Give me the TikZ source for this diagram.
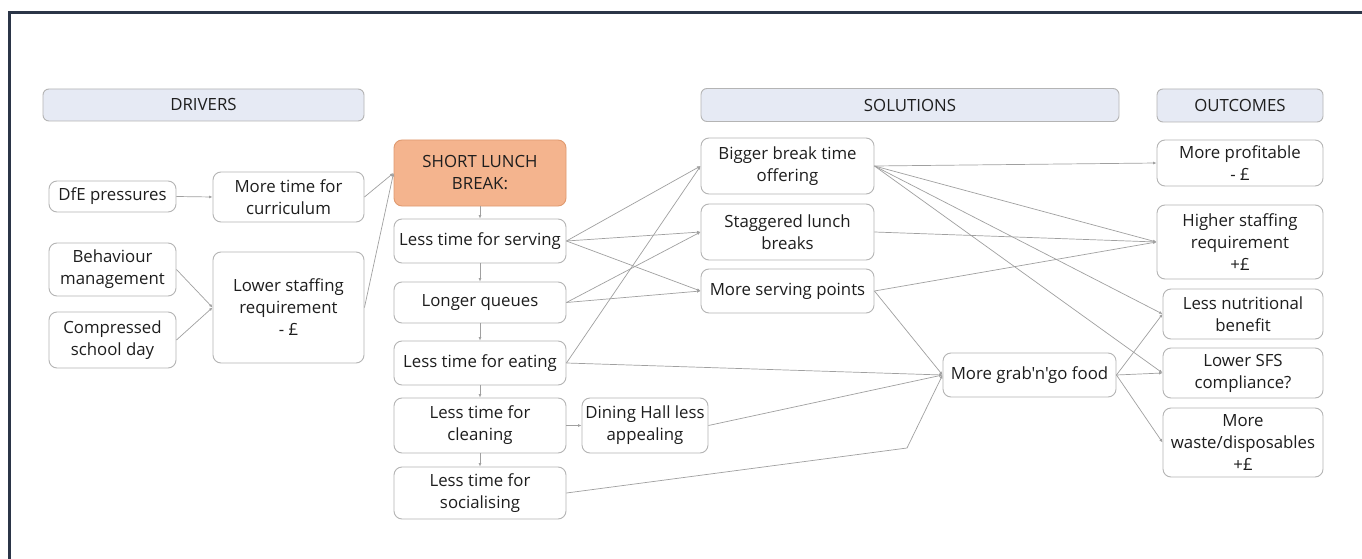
\documentclass[tikz,border=0pt]{standalone}
\usepackage{fontspec}
\setmainfont{Open Sans}[Ligatures=TeXOff]
\usetikzlibrary{arrows.meta}
\definecolor{framec}{HTML}{2B3547}
\definecolor{boxline}{HTML}{B4B4B4}
\definecolor{hdrfill}{HTML}{E6EAF4}
\definecolor{shortfill}{HTML}{F4B48E}
\definecolor{shortline}{HTML}{E09A70}
\definecolor{edgec}{HTML}{A0A0A0}
\definecolor{txt}{HTML}{1E1E1E}
\tikzset{
  box/.style={draw=boxline, line width=0.9pt, rounded corners=8pt, fill=white,
    inner sep=0pt, align=center, text=txt, font=\fontsize{16.8}{22}\selectfont},
  hdr/.style={box, fill=hdrfill, rounded corners=6pt},
  shortbox/.style={box, fill=shortfill, draw=shortline},
  link/.style={draw=edgec, line width=0.7pt, -{Latex[length=3.5pt,width=3pt]}},
}
\newcommand{\bx}[6]{\node[#1, minimum width=#4pt, minimum height=#5pt] (#2) at (#3) {#6};}
\begin{document}
\begin{tikzpicture}[x=1pt,y=-1pt]
\useasboundingbox (0,0) rectangle (1362,559);
\clip (0,0) rectangle (1362,559);
\fill[white] (0,0) rectangle (1362,559);
\draw[framec, line width=3pt] (9.5,12.5) rectangle (1390,590);
% headers
\bx{hdr}{hd}{203.5,105}{321}{32}{DRIVERS}
\bx{hdr}{hs}{910,105}{418}{33}{SOLUTIONS}
\bx{hdr}{ho}{1240,105.5}{166}{33}{OUTCOMES}
% drivers
\bx{box}{dfe}{112.5,196.5}{127}{31}{DfE pressures}
\bx{box}{curr}{288.5,197}{151}{50}{More time for\\curriculum}
\bx{box}{beh}{112.5,269.5}{127}{53}{Behaviour\\management}
\bx{box}{comp}{112.5,340}{127}{56}{Compressed\\school day}
\bx{box}{lower}{288.5,307.5}{151}{111}{Lower staffing\\requirement\\- £}
% central column
\bx{shortbox}{short}{480,173}{172}{66}{SHORT LUNCH\\BREAK:}
\bx{box}{serving}{480,241}{172}{44}{Less time for serving}
\bx{box}{queues}{480,302.5}{172}{41}{Longer queues}
\bx{box}{eating}{480,363}{172}{44}{Less time for eating}
\bx{box}{cleaning}{480,425.5}{172}{55}{Less time for\\cleaning}
\bx{box}{social}{480,493}{172}{52}{Less time for\\socialising}
\bx{box}{dining}{645,425.5}{126}{55}{Dining Hall less\\appealing}
% solutions
\bx{box}{bigger}{787.5,166}{173}{56}{Bigger break time\\offering}
\bx{box}{stagger}{787.5,232}{173}{56}{Staggered lunch\\breaks}
\bx{box}{points}{787.5,291}{173}{44}{More serving points}
\bx{box}{grab}{1029.5,375}{173}{44}{More grab'n'go food}
% outcomes
\bx{box}{profit}{1240,163}{166}{46}{More profitable\\- £}
\bx{box}{higher}{1240,242}{166}{74}{Higher staffing\\requirement\\+£}
\bx{box}{nutri}{1243,314}{160}{50}{Less nutritional\\benefit}
\bx{box}{sfs}{1243,373}{160}{50}{Lower SFS\\compliance?}
\bx{box}{waste}{1243,442.5}{160}{69}{More\\waste/disposables\\+£}
\coordinate (bend) at (907,448);
% connectors
\draw[link] (dfe.east) -- (curr.west);
\draw[link] (beh.east) -- (lower.west);
\draw[link] (comp.east) -- (lower.west);
\draw[link] (curr.east) -- (short.west);
\draw[link] (lower.east) -- (short.west);
\draw[link] (short.south) -- (serving.north);
\draw[link] (serving.south) -- (queues.north);
\draw[link] (queues.south) -- (eating.north);
\draw[link] (eating.south) -- (cleaning.north);
\draw[link] (cleaning.south) -- (social.north);
\draw[link] (cleaning.east) -- (dining.west);
\draw[link] (serving.east) -- (bigger.west);
\draw[link] (serving.east) -- (stagger.west);
\draw[link] (serving.east) -- (points.west);
\draw[link] (queues.east) -- (stagger.west);
\draw[link] (queues.east) -- (points.west);
\draw[link] (eating.east) -- (bigger.west);
\draw[link] (eating.east) -- (grab.west);
\draw[link] (dining.east) -- (grab.west);
\draw[link] (social.east) -- (bend) -- (grab.west);
\draw[link] (points.east) -- (grab.west);
\draw[link] (bigger.east) -- (profit.west);
\draw[link] (bigger.east) -- (higher.west);
\draw[link] (bigger.east) -- (nutri.west);
\draw[link] (bigger.east) -- (sfs.west);
\draw[link] (stagger.east) -- (higher.west);
\draw[link] (points.east) -- (higher.west);
\draw[link] (grab.east) -- (nutri.west);
\draw[link] (grab.east) -- (sfs.west);
\draw[link] (grab.east) -- (waste.west);
\end{tikzpicture}
\end{document}
